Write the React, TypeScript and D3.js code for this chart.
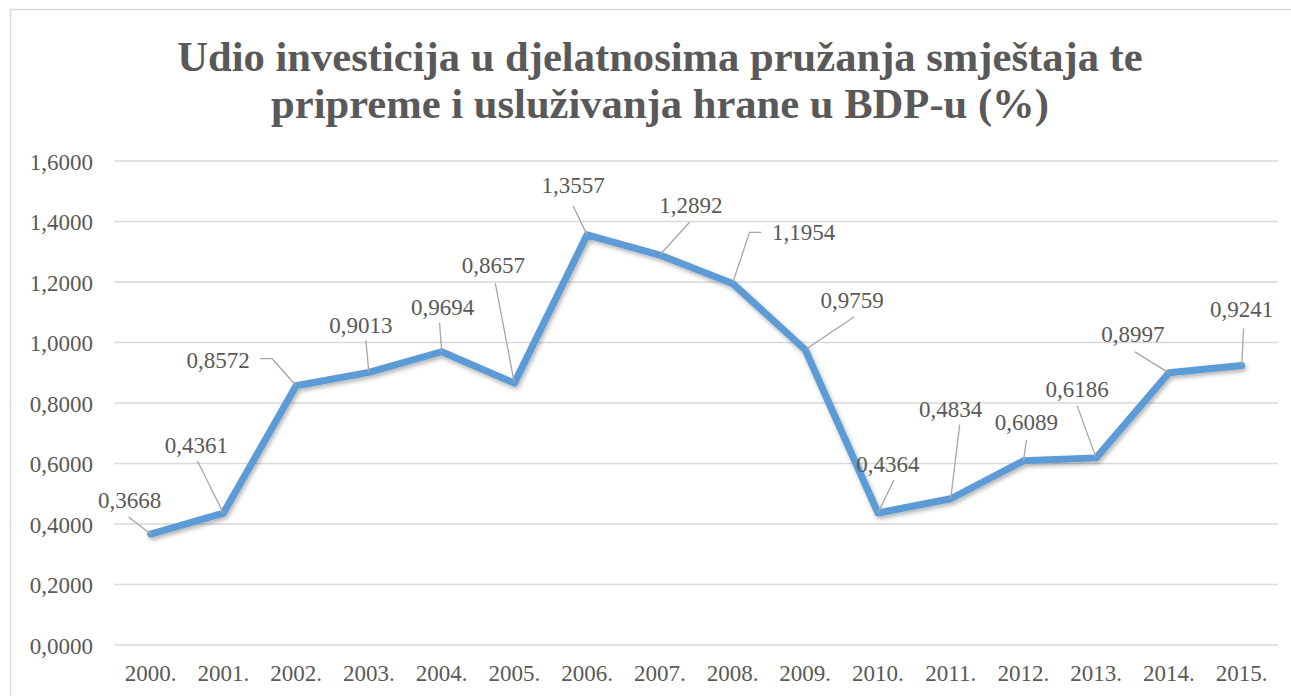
import React from "react";
import * as d3 from "d3";

const titleLines = [
  "Udio investicija u djelatnosima pružanja smještaja te",
  "pripreme i usluživanja hrane u BDP-u (%)",
];
const categories = [
  "2000.", "2001.", "2002.", "2003.", "2004.", "2005.", "2006.", "2007.",
  "2008.", "2009.", "2010.", "2011.", "2012.", "2013.", "2014.", "2015.",
];
const values = [
  0.3668, 0.4361, 0.8572, 0.9013, 0.9694, 0.8657, 1.3557, 1.2892,
  1.1954, 0.9759, 0.4364, 0.4834, 0.6089, 0.6186, 0.8997, 0.9241,
];
const yTicks = [0, 0.2, 0.4, 0.6, 0.8, 1.0, 1.2, 1.4, 1.6];

// label layout: [dx, dy] of label centre/baseline relative to point,
// leader start [lx, ly], optional elbow [ex, ey]
const labelLayout: { d: [number, number]; l: [number, number]; e?: [number, number] }[] = [
  { d: [-21, -26], l: [-22, -17] },
  { d: [-27, -60], l: [-26, -52] },
  { d: [-78, -18], l: [-36, -27], e: [-24, -27] },
  { d: [-8, -39], l: [-3, -32] },
  { d: [1, -37], l: [-2, -29] },
  { d: [-21, -110], l: [-19, -100] },
  { d: [-14, -42], l: [-14, -29] },
  { d: [31, -42], l: [30, -33] },
  { d: [71, -43], l: [29, -51], e: [17, -51] },
  { d: [47, -42], l: [49, -33] },
  { d: [10, -41], l: [16, -33] },
  { d: [0, -82], l: [9, -74] },
  { d: [3, -31], l: [3, -21] },
  { d: [-19, -61], l: [-19, -52] },
  { d: [-36, -31], l: [-34, -21] },
  { d: [0, -48], l: [2, -37] },
];

const W = 1291;
const H = 696;
const plot = { left: 114.3, right: 1278, top: 161, bottom: 645 };
const textColor = "#595959";
const fmt = (v: number) => v.toFixed(4).replace(".", ",");
const serif = { fontFamily: "Liberation Serif" };

export default function App() {
  const x = d3
    .scaleBand<string>()
    .domain(categories)
    .range([plot.left, plot.right])
    .padding(0);
  const y = d3.scaleLinear().domain([0, 1.6]).range([plot.bottom, plot.top]);
  const cx = (c: string) => (x(c) as number) + x.bandwidth() / 2;

  const line = d3
    .line<number>()
    .x((_, i) => cx(categories[i]))
    .y((v) => y(v));

  return (
    <svg
      width={W}
      height={H}
      fontFamily="Liberation Serif"
      style={{ position: "absolute", left: 0, top: 0, fontFamily: "Liberation Serif" }}
    >
      <defs>
        <filter id="shadow" x="-10%" y="-10%" width="120%" height="130%">
          <feDropShadow dx="1.5" dy="2.5" stdDeviation="2" floodColor="#000" floodOpacity="0.3" />
        </filter>
      </defs>
      <rect x={0} y={0} width={W} height={H} fill="#fff" />
      <rect x={10.5} y={9.5} width={W + 20} height={H + 20} fill="none" stroke="#d9d9d9" strokeWidth={1.5} />

      {titleLines.map((t, i) => (
        <text
          key={i}
          x={660}
          y={71 + i * 47}
          textAnchor="middle"
          style={serif}
          fontWeight="bold"
          fontSize={42.6}
          fill={textColor}
        >
          {t}
        </text>
      ))}

      {yTicks.map((t) => (
        <g key={t}>
          <line
            x1={plot.left}
            x2={plot.right}
            y1={y(t)}
            y2={y(t)}
            stroke="#d9d9d9"
            strokeWidth={1.5}
          />
          <text
            x={93}
            y={y(t) + 8.5}
            textAnchor="end"
            style={serif}
            fontSize={23}
            fill={textColor}
          >
            {fmt(t)}
          </text>
        </g>
      ))}

      {categories.map((c) => (
        <text
          key={c}
          x={cx(c)}
          y={681}
          textAnchor="middle"
          style={serif}
          fontSize={23}
          fill={textColor}
        >
          {c}
        </text>
      ))}

      <path
        d={line(values) as string}
        fill="none"
        stroke="#5b9bd5"
        strokeWidth={7}
        strokeLinejoin="round"
        strokeLinecap="round"
        filter="url(#shadow)"
      />

      {values.map((v, i) => {
        const px = cx(categories[i]);
        const py = y(v);
        const L = labelLayout[i];
        const pts: [number, number][] = [[px + L.l[0], py + L.l[1]]];
        if (L.e) pts.push([px + L.e[0], py + L.e[1]]);
        pts.push([px, py]);
        return (
          <g key={i}>
            <polyline
              points={pts.map((p) => p.join(",")).join(" ")}
              fill="none"
              stroke="#a6a6a6"
              strokeWidth={1.3}
            />
            <text
              x={px + L.d[0]}
              y={py + L.d[1]}
              textAnchor="middle"
              style={serif}
              fontSize={23}
              fill={textColor}
            >
              {fmt(v)}
            </text>
          </g>
        );
      })}
    </svg>
  );
}
